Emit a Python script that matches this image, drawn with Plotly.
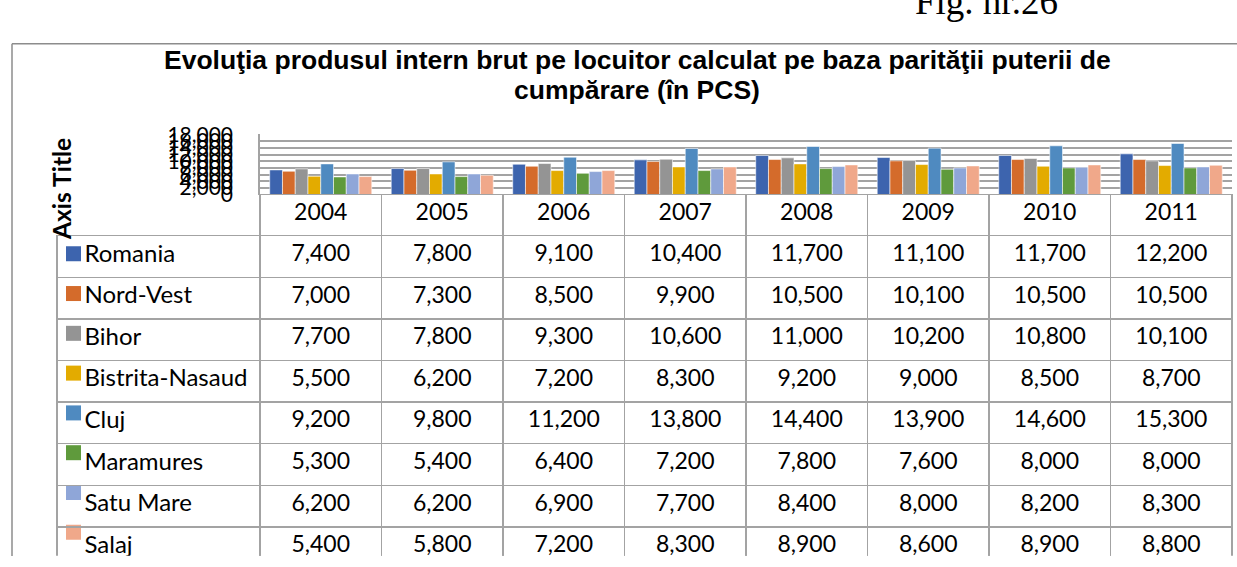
import plotly.graph_objects as go

W, H = 1237, 567

years = ["2004", "2005", "2006", "2007", "2008", "2009", "2010", "2011"]
regions = ["Romania", "Nord-Vest", "Bihor", "Bistrita-Nasaud", "Cluj", "Maramures", "Satu Mare", "Salaj"]

romania = [7400, 7800, 9100, 10400, 11700, 11100, 11700, 12200]
nord_vest = [7000, 7300, 8500, 9900, 10500, 10100, 10500, 10500]
bihor = [7700, 7800, 9300, 10600, 11000, 10200, 10800, 10100]
bistrita = [5500, 6200, 7200, 8300, 9200, 9000, 8500, 8700]
cluj = [9200, 9800, 11200, 13800, 14400, 13900, 14600, 15300]
maramures = [5300, 5400, 6400, 7200, 7800, 7600, 8000, 8000]
satu_mare = [6200, 6200, 6900, 7700, 8400, 8000, 8200, 8300]
salaj = [5400, 5800, 7200, 8300, 8900, 8600, 8900, 8800]

series = [romania, nord_vest, bihor, bistrita, cluj, maramures, satu_mare, salaj]
colors = ["#3D64AE", "#D46B2B", "#949494", "#E3AB00", "#4F8AC0", "#5F9A3C", "#8FA6D8", "#F0A88A"]

GRID = "#A3A3A3"
TXT_FONT = "Lato"


def px_x(p):
    return p / W


def px_y(p):
    return 1 - p / H


fig = go.Figure()

for name, vals, col in zip(regions, series, colors):
    fig.add_trace(go.Bar(
        x=years, y=vals, name=name,
        marker=dict(color=col, line=dict(color="rgba(255,255,255,0.8)", width=0.7)),
        showlegend=False, hoverinfo="x+y+name",
    ))

# legend keys of the data table, placed through a categorical axis
fig.add_trace(go.Scatter(
    x=[0] * len(regions), y=regions, mode="markers",
    marker=dict(symbol="square", size=15, color=colors, line=dict(width=0)),
    xaxis="x2", yaxis="y2", showlegend=False, hoverinfo="y",
))

first_col = ["\u2003\u200a" + r for r in regions]
year_cols = []
for i in range(len(years)):
    year_cols.append([f"{s[i]:,}" for s in series])

fig.add_trace(go.Table(
    domain=dict(x=[px_x(57), px_x(1232)], y=[0, px_y(189)]),
    columnwidth=[203] + [121.5] * 8,
    header=dict(
        values=[""] + years,
        height=41,
        align="center",
        font=dict(family=TXT_FONT, size=23, color="black"),
        line=dict(color=["rgba(0,0,0,0)"] + [GRID] * 8, width=1.5),
        fill=dict(color="rgba(0,0,0,0)"),
    ),
    cells=dict(
        values=[first_col] + year_cols,
        height=41.6,
        align=["left"] + ["center"] * 8,
        font=dict(family=TXT_FONT, size=[24] + [23] * 8, color="black"),
        line=dict(color=GRID, width=1.5),
        fill=dict(color="rgba(0,0,0,0)"),
    ),
))

frame = [
    dict(type="line", xref="paper", yref="paper", x0=px_x(12), x1=1, y0=px_y(31), y1=px_y(31),
         line=dict(color="#8C8C8C", width=1.5), layer="below"),
    dict(type="line", xref="paper", yref="paper", x0=px_x(12), x1=px_x(12), y0=0, y1=px_y(31),
         line=dict(color="#8C8C8C", width=1.5), layer="below"),
]

fig.update_layout(
    width=W, height=H,
    margin=dict(l=0, r=0, t=0, b=0),
    paper_bgcolor="white", plot_bgcolor="white",
    barmode="group", bargap=0.16, bargroupgap=0.0,
    xaxis=dict(domain=[px_x(260), px_x(1232)], showticklabels=False, ticks="",
               showgrid=False, zeroline=False, showline=False, fixedrange=True),
    yaxis=dict(domain=[px_y(189), px_y(126)], range=[0, 18000], dtick=2000,
               tickformat=",d", showgrid=True, gridcolor=GRID, gridwidth=1.5,
               zeroline=False, showline=True, linecolor=GRID, linewidth=1.5,
               ticks="", ticklabelstandoff=21,
               tickfont=dict(family=TXT_FONT, size=21, color="black")),
    xaxis2=dict(domain=[px_x(66), px_x(81)], range=[-0.5, 0.5], visible=False, fixedrange=True),
    yaxis2=dict(domain=[px_y(563), px_y(230)], type="category", categoryorder="array",
                categoryarray=regions, range=[7.5, -0.5], visible=False, fixedrange=True),
    shapes=frame,
    annotations=[
        dict(text="<b>Evoluţia produsul intern brut pe locuitor calculat pe baza parităţii puterii de</b>",
             x=px_x(637), y=px_y(48), xref="paper", yref="paper", showarrow=False,
             xanchor="center", yanchor="middle",
             font=dict(family="Liberation Sans", size=26.5, color="black")),
        dict(text="<b>cumpărare (în PCS)</b>",
             x=px_x(637), y=px_y(80), xref="paper", yref="paper", showarrow=False,
             xanchor="center", yanchor="middle",
             font=dict(family="Liberation Sans", size=26.5, color="black")),
        dict(text="<b>Axis Title</b>", textangle=-90,
             x=px_x(62), y=px_y(183), xref="paper", yref="paper", showarrow=False,
             xanchor="center", yanchor="middle",
             font=dict(family=TXT_FONT, size=24.5, color="black")),
        dict(text="Fig. nr.26",
             x=px_x(986), y=px_y(10), xref="paper", yref="paper", showarrow=False,
             xanchor="center", yanchor="bottom",
             font=dict(family="Liberation Serif", size=37, color="black")),
    ],
)

fig.write_html("out.html", config={"displayModeBar": False},
               post_script="document.body.style.margin='0';")
